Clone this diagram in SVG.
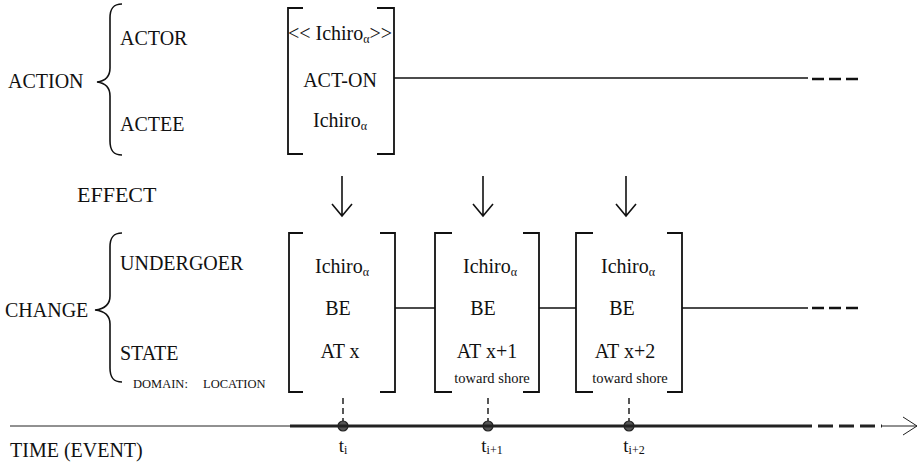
<svg xmlns="http://www.w3.org/2000/svg" width="920" height="463" viewBox="0 0 920 463" font-family="'Liberation Serif', 'Times New Roman', serif">
  <style>
    text { fill: #111; }
    .lbl { font-size: 20px; }
    .big { font-size: 22px; }
    .cell { font-size: 20px; text-anchor: middle; }
    .sm { font-size: 14.5px; text-anchor: middle; }
    .tiny { font-size: 12.5px; }
    .tick { font-size: 19px; text-anchor: middle; }
    .sub { font-size: 12px; }
    .brk { fill: none; stroke: #111; stroke-width: 1.8; }
    .brace { fill: none; stroke: #111; stroke-width: 1.6; }
    .line { fill: none; stroke: #111; stroke-width: 1.6; }
    .dash { fill: none; stroke: #111; stroke-width: 2.4; stroke-dasharray: 12 5; }
    .arrow { fill: none; stroke: #111; stroke-width: 1.6; }
    .vdash { fill: none; stroke: #111; stroke-width: 1.4; stroke-dasharray: 6 4; }
    .dot { fill: #555; stroke: #222; stroke-width: 1.2; }
  </style>

  <!-- row labels -->
  <g id="labels">
    <text class="lbl" x="8" y="88">ACTION</text>
    <path class="brace" d="M122,4 C113,4 110,9 110,18 L110,68 C110,77 105,81 97,82 C105,83 110,87 110,96 L110,141 C110,150 113,155 122,155"/>
    <text class="lbl" x="120" y="45">ACTOR</text>
    <text class="lbl" x="120" y="131">ACTEE</text>

    <text class="big" x="77" y="202">EFFECT</text>

    <text class="lbl" x="5" y="317">CHANGE</text>
    <path class="brace" d="M122,233 C113,233 110,238 110,247 L110,296 C110,305 104,309 95,310 C104,311 110,315 110,324 L110,368 C110,377 113,382 122,382"/>
    <text class="lbl" x="120" y="270">UNDERGOER</text>
    <text class="lbl" x="120" y="360">STATE</text>
    <text class="tiny" x="133" y="388">DOMAIN:</text>
    <text class="tiny" x="203" y="388">LOCATION</text>

    <text class="lbl" x="10" y="457">TIME (EVENT)</text>
  </g>

  <!-- action frame -->
  <g id="action">
    <path class="brk" d="M303,8 H288 V154 H303 M377,8 H394 V154 H377"/>
    <text class="cell" x="340" y="40">&lt;&lt; Ichiro<tspan class="sub" dy="3">α</tspan><tspan dy="-3">&gt;&gt;</tspan></text>
    <text class="cell" x="340" y="87">ACT-ON</text>
    <text class="cell" x="340" y="127">Ichiro<tspan class="sub" dy="3">α</tspan></text>
  </g>

  <!-- change frames -->
  <g id="change1">
    <path class="brk" d="M303,233 H289 V392 H303 M380,233 H395 V392 H380"/>
    <text class="cell" x="342" y="273">Ichiro<tspan class="sub" dy="3">α</tspan></text>
    <text class="cell" x="338" y="315">BE</text>
    <text class="cell" x="340" y="358">AT x</text>
  </g>
  <g id="change2">
    <path class="brk" d="M452,233 H435 V392 H452 M523,233 H539 V392 H523"/>
    <text class="cell" x="490" y="273">Ichiro<tspan class="sub" dy="3">α</tspan></text>
    <text class="cell" x="483" y="315">BE</text>
    <text class="cell" x="487" y="358">AT x+1</text>
    <text class="sm" x="492" y="383">toward shore</text>
  </g>
  <g id="change3">
    <path class="brk" d="M593,233 H576 V392 H593 M667,233 H682 V392 H667"/>
    <text class="cell" x="628" y="273">Ichiro<tspan class="sub" dy="3">α</tspan></text>
    <text class="cell" x="622" y="315">BE</text>
    <text class="cell" x="625" y="358">AT x+2</text>
    <text class="sm" x="630" y="383">toward shore</text>
  </g>

  <!-- time points -->
  <g id="t1">
    <circle class="dot" cx="343" cy="426" r="5"/>
    <text class="tick" x="343" y="452">t<tspan class="sub" dy="2">i</tspan></text>
  </g>
  <g id="t2">
    <circle class="dot" cx="488" cy="426" r="5"/>
    <text class="tick" x="492" y="452">t<tspan class="sub" dy="2">i+1</tspan></text>
  </g>
  <g id="t3">
    <circle class="dot" cx="629" cy="426" r="5"/>
    <text class="tick" x="634" y="452">t<tspan class="sub" dy="2">i+2</tspan></text>
  </g>

  <!-- connectors -->
  <g id="connectors">
    <!-- action continues -->
    <path class="line" d="M394,78 H808"/>
    <path class="dash" d="M812,79 H858"/>
    <!-- effect arrows -->
    <path class="arrow" d="M342,176 V216 M332,204 L342,216 L352,204"/>
    <path class="arrow" d="M483,176 V216 M473,204 L483,216 L493,204"/>
    <path class="arrow" d="M626,176 V216 M616,204 L626,216 L636,204"/>
    <!-- state sequence -->
    <path class="line" d="M395,308 H435 M539,308 H576 M682,308 H808"/>
    <path class="dash" d="M812,308 H858"/>
    <!-- frames to time points -->
    <path class="vdash" d="M343,398 V421"/>
    <path class="vdash" d="M488,398 V421"/>
    <path class="vdash" d="M629,398 V421"/>
    <!-- time axis -->
    <path fill="none" stroke="#222" stroke-width="1" d="M10,426 H290 M882,426 H917"/>
    <path fill="none" stroke="#222" stroke-width="3" d="M290,426 H812"/>
    <path fill="none" stroke="#222" stroke-width="3" stroke-dasharray="15 6" d="M818,426 H882"/>
    <path fill="none" stroke="#222" stroke-width="1" d="M903,417 L917,426 L903,435"/>
  </g>
</svg>
